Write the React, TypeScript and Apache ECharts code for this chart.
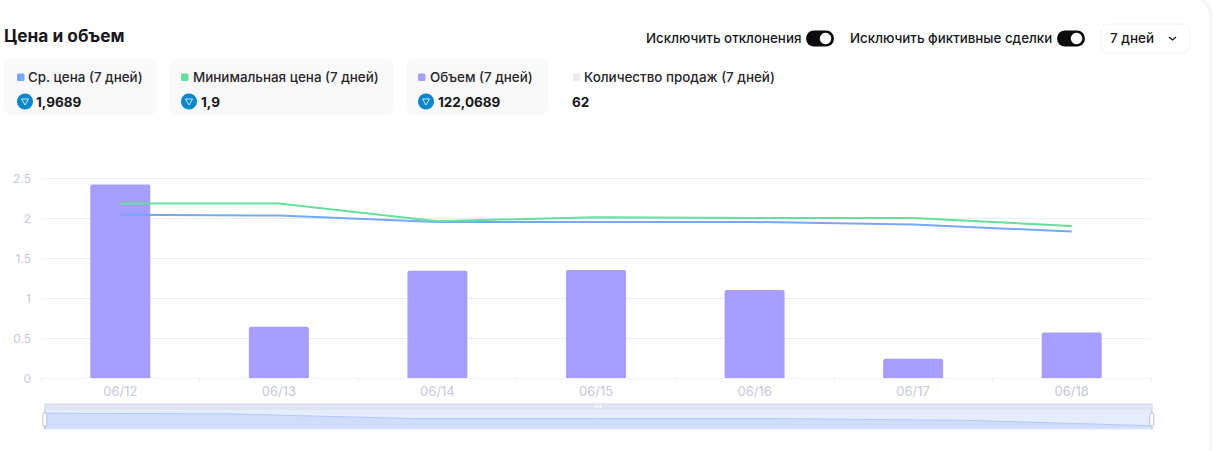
import React, { useEffect, useRef } from "react";
import * as echarts from "echarts";

const title = "Цена и объем";
const categories = ["06/12", "06/13", "06/14", "06/15", "06/16", "06/17", "06/18"];
const avgPrice = [2.04, 2.03, 1.95, 1.95, 1.95, 1.92, 1.83];
const minPrice = [2.18, 2.18, 1.96, 2.01, 2.0, 2.0, 1.9];
const volume = [2.42, 0.64, 1.34, 1.35, 1.1, 0.24, 0.57];
const legendNames = ["Ср. цена (7 дней)", "Минимальная цена (7 дней)", "Объем (7 дней)", "Количество продаж (7 дней)"];
const legendValues = ["1,9689", "1,9", "122,0689", "62"];
const legendColors = ["#74a8ff", "#63e09a", "#a69dff", "#ececec"];
const toggles = ["Исключить отклонения", "Исключить фиктивные сделки"];
const period = "7 дней";

const FONT = "Inter, 'Noto Sans', sans-serif";
const DARK = "#17171c";

function card(x: number, w: number) {
  return { type: "rect", z: 1, shape: { x, y: 59, width: w, height: 56, r: 8 }, style: { fill: "#f9f9f9" } };
}
function label(text: string, x: number, y: number, size: number, weight: number, fill = DARK) {
  return {
    type: "text", z: 3, x, y,
    style: { text, fontFamily: FONT, fontSize: size, fontWeight: weight, fill, textVerticalAlign: "middle", verticalAlign: "middle" },
  };
}
function swatch(x: number, fill: string) {
  return { type: "rect", z: 3, shape: { x, y: 73.5, width: 7.5, height: 7.5, r: 1.5 }, style: { fill } };
}
function tonIcon(cx: number, cy: number) {
  return [
    { type: "circle", z: 3, shape: { cx, cy, r: 8 }, style: { fill: "#0a88cc" } },
    {
      type: "polygon", z: 4,
      shape: { points: [[cx - 3.5, cy - 2.5], [cx + 3.5, cy - 2.5], [cx, cy + 3.5]] },
      style: { fill: "none", stroke: "#cfe7f6", lineWidth: 1 },
    },
  ];
}
function toggle(x: number) {
  return [
    { type: "rect", z: 3, shape: { x, y: 30.5, width: 28, height: 16, r: 8 }, style: { fill: "#0b0b0d" } },
    { type: "circle", z: 4, shape: { cx: x + 19.5, cy: 38.5, r: 5.7 }, style: { fill: "#ffffff" } },
  ];
}

export default function App() {
  const ref = useRef<HTMLDivElement>(null);
  useEffect(() => {
    document.body.style.margin = "0";
    const chart = echarts.init(ref.current!, undefined, { renderer: "svg" });
    const cardX = [17, 181, 418, 573];
    const textX = [28, 193, 430, 584];
    const valueX = [36, 201, 438, 572];
    const graphic: any[] = [
      { type: "rect", z: 0, shape: { x: -30, y: -4, width: 1240.5, height: 480, r: 20 }, style: { fill: "#fff", stroke: "#f5f5f6", lineWidth: 3 } },
      card(4, 153), card(169, 225), card(406, 142),
      label(title, 4, 35, 17.3, 700),
      label(toggles[0], 646, 38, 13.35, 500),
      label(toggles[1], 850, 38, 13.35, 500),
      ...toggle(806), ...toggle(1057),
      { type: "rect", z: 1, shape: { x: 1101, y: 24, width: 89, height: 29, r: 8 }, style: { fill: "#fff", stroke: "#f2f2f3", lineWidth: 1 } },
      label(period, 1110, 38, 13.5, 500),
      { type: "polyline", z: 3, shape: { points: [[1169, 37], [1172.5, 40], [1176, 37]] }, style: { fill: "none", stroke: DARK, lineWidth: 1.3 } },
    ];
    legendNames.forEach((name, i) => {
      graphic.push(swatch(cardX[i], legendColors[i]));
      graphic.push(label(name, textX[i], 77, 13.4, 500, "#26262b"));
      graphic.push(label(legendValues[i], valueX[i], 102, 13.5, 700));
      if (i < 3) graphic.push(...tonIcon(cardX[i] + 8, 101.5));
    });
    chart.setOption({
      animation: false,
      backgroundColor: "transparent",
      textStyle: { fontFamily: FONT },
      grid: { left: 41, right: 64, top: 178, height: 200 },
      xAxis: {
        type: "category",
        data: categories,
        boundaryGap: true,
        axisLine: { lineStyle: { color: "#f1f2f6" } },
        axisTick: { show: true, length: 5, alignWithLabel: false, lineStyle: { color: "#f1f2f6" } },
        axisLabel: { color: "#c6cad6", fontSize: 13, margin: 6, fontFamily: FONT },
      },
      yAxis: {
        type: "value",
        min: 0,
        max: 2.5,
        interval: 0.5,
        axisLine: { show: false },
        axisTick: { show: false },
        axisLabel: { color: "#c6cad6", fontSize: 12, margin: 10, fontFamily: FONT, padding: [0, 0, 2, 0] },
        splitLine: { lineStyle: { color: "#e9eef6" } },
      },
      dataZoom: [{
        type: "slider",
        xAxisIndex: 0,
        start: 0,
        end: 100,
        left: 41,
        right: 65,
        top: 403,
        height: 20,
        showDetail: false,
        borderColor: "#eaeefa",
        backgroundColor: "transparent",
        fillerColor: "rgba(135,175,245,0.22)",
        handleSize: "100%",
        handleStyle: { color: "#fff", borderColor: "#b8c2d6" },
        moveHandleSize: 7,
        moveHandleStyle: { color: "#dfe4f2", opacity: 1 },
        dataBackground: { lineStyle: { color: "transparent", opacity: 0 }, areaStyle: { color: "transparent", opacity: 0 } },
        selectedDataBackground: { lineStyle: { color: "#bcd0f9", width: 1 }, areaStyle: { color: "#8fb0f7", opacity: 0.25 } },
      }],
      graphic,
      series: [
        { name: legendNames[0], type: "line", data: avgPrice, showSymbol: false, z: 4, lineStyle: { color: legendColors[0], width: 2 }, itemStyle: { color: legendColors[0] } },
        { name: legendNames[1], type: "line", data: minPrice, showSymbol: false, z: 4, lineStyle: { color: legendColors[1], width: 2 }, itemStyle: { color: legendColors[1] } },
        { name: legendNames[2], type: "bar", data: volume, barWidth: 60, z: 2, itemStyle: { color: legendColors[2], borderRadius: [2, 2, 0, 0] } },
      ],
    });
    return () => chart.dispose();
  }, []);
  return <div ref={ref} style={{ position: "absolute", left: 0, top: 0, width: 1215, height: 451 }} />;
}
